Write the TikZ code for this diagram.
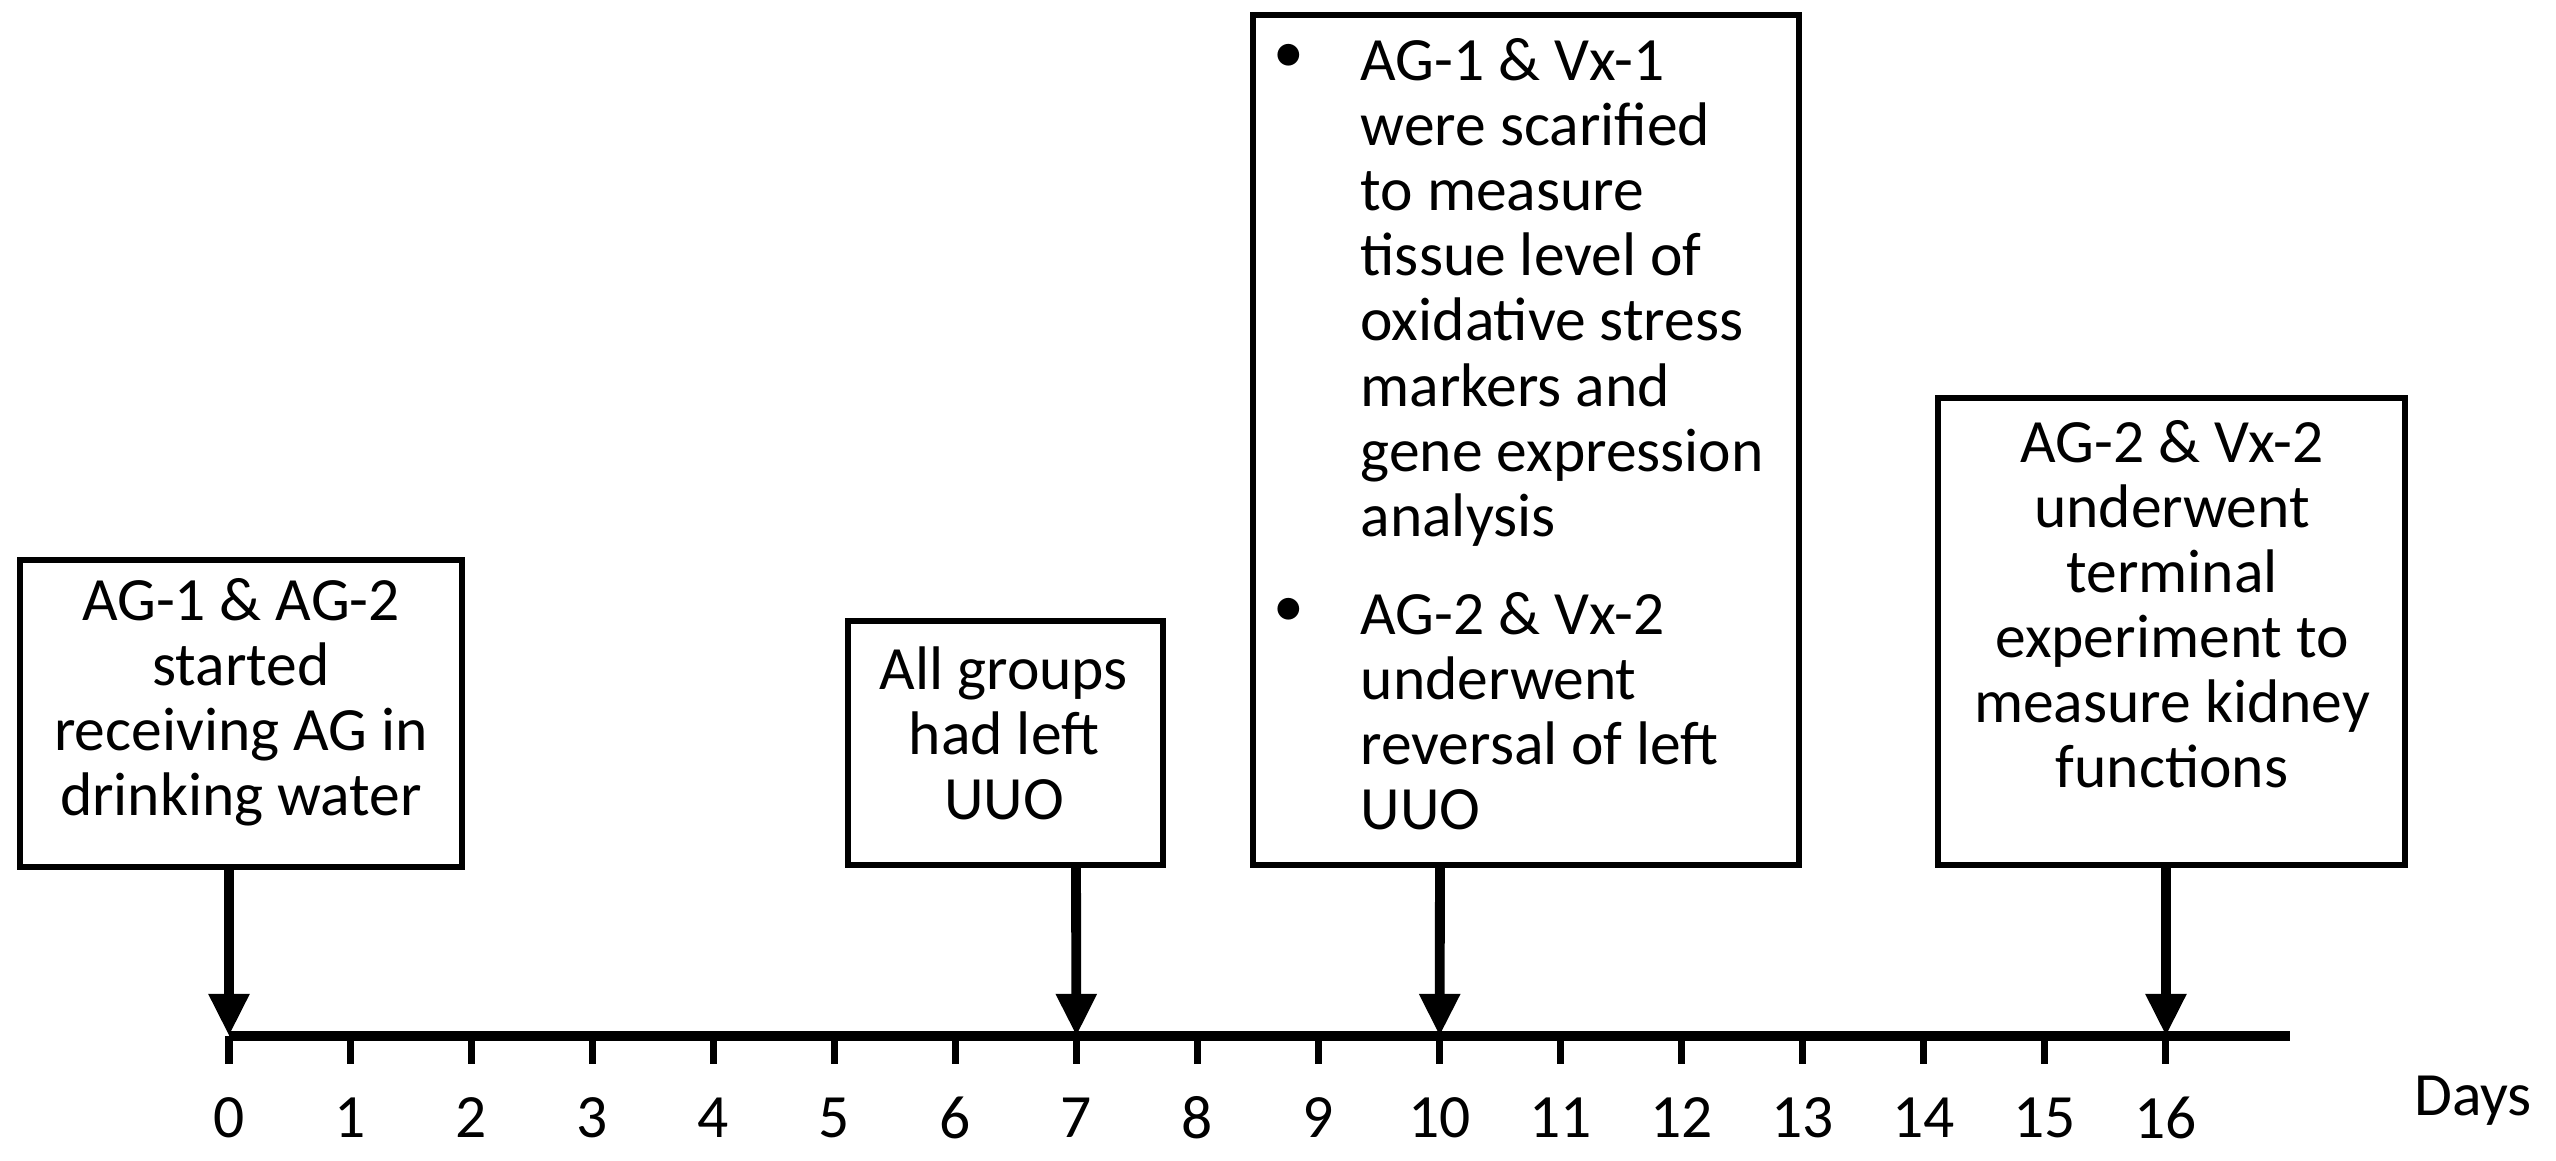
\documentclass[tikz,border=0pt]{standalone}
\usepackage{fontspec}
\setmainfont{Carlito}
\usetikzlibrary{arrows.meta}
\begin{document}
\begin{tikzpicture}[x=0.01cm,y=-0.01cm,
  txt/.style={align=center,inner sep=0pt,font=\fontsize{17.5}{18.5}\selectfont},
  frame/.style={draw,line width=1.5pt},
  arr/.style={line width=2.8pt,-{Triangle[length=12pt,width=11pt]}},
  lab/.style={font=\fontsize{17.5}{18.5}\selectfont}]
\useasboundingbox (0,0) rectangle (2556,1161);
\fill[white] (0,0) rectangle (2556,1161);
\coordinate (a0) at (229,1036);
\coordinate (a1) at (2290,1036);
\draw[line width=2.6pt] (a0) -- (a1);
\foreach \i in {0,...,16}{
  \coordinate (t\i) at ({229+121.06*\i},1036);
  \draw[line width=2pt] (t\i) -- ++(0,28);
  \node[lab] (l\i) at ({229+121.06*\i},1118) {\i};
}
\node[lab] (days) at (2473,1101) {Days};
\draw[frame] (20,560) rectangle (462,867);
\node[txt] (t1) at (241,702) {AG-1 \& AG-2\\started\\receiving AG in\\drinking water};
\draw[frame] (848,621) rectangle (1163,865);
\node[txt] (t2) at (1004,733) {All groups\\had left\\UUO};
\draw[frame] (1253,15) rectangle (1799,865);
\node[txt,align=left,anchor=north west] (t3a) at (1360,38) {AG-1 \& Vx-1\\were scarified\\to measure\\tissue level of\\oxidative stress\\markers and\\gene expression\\analysis};
\node[txt] (d1) at (1289,58) {\textbullet};
\node[txt,align=left,anchor=north west] (t3b) at (1360,592) {AG-2 \& Vx-2\\underwent\\reversal of left\\UUO};
\node[txt] (d2) at (1289,612) {\textbullet};
\draw[frame] (1938,398) rectangle (2405,865);
\node[txt] (t4) at (2172,604) {AG-2 \& Vx-2\\underwent\\terminal\\experiment to\\measure kidney\\functions};
\coordinate (s1) at (229,867);
\coordinate (s2) at (1076,865);
\coordinate (s3) at (1440,865);
\coordinate (s4) at (2166,865);
\draw[arr] (s1) -- (t0);
\draw[arr] (s2) -- (t7);
\draw[arr] (s3) -- (t10);
\draw[arr] (s4) -- (t16);
\end{tikzpicture}
\end{document}
